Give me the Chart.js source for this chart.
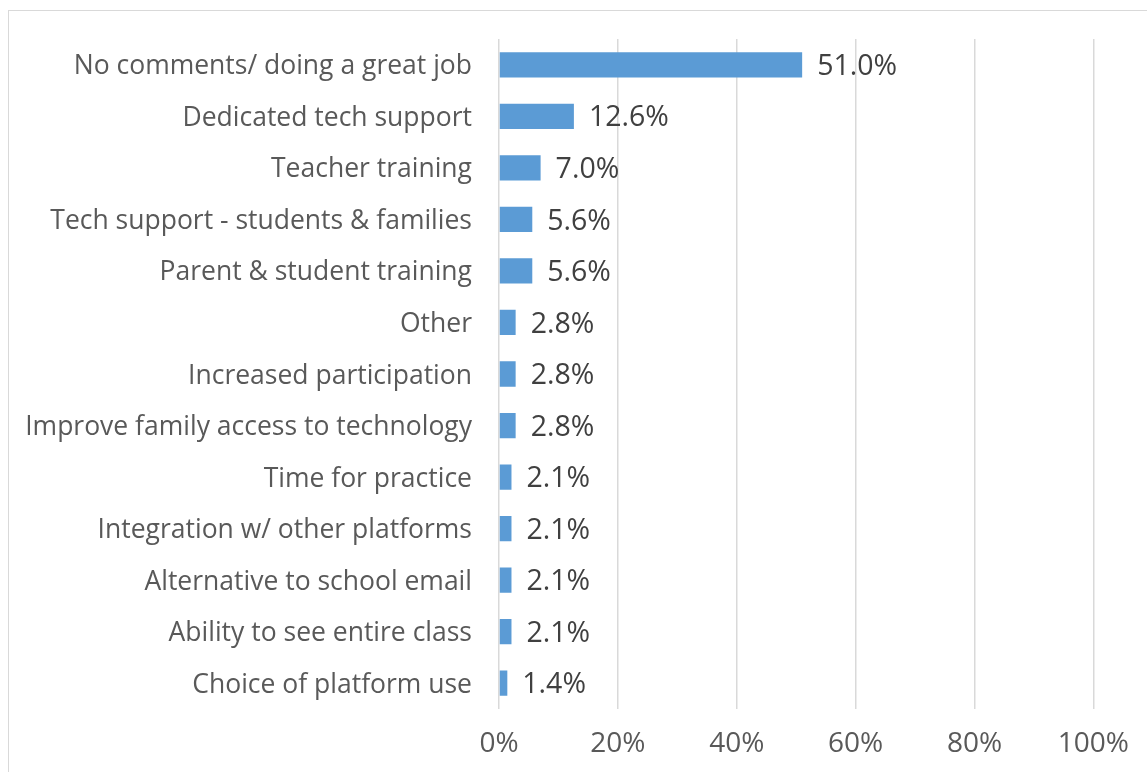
<!DOCTYPE html>
<html>
<head>
<meta charset="utf-8">
<script src="https://cdn.jsdelivr.net/npm/chart.js@4"></script>
<style>
  html, body { margin: 0; padding: 0; background: #fff; overflow: hidden; }
  #frame { position: absolute; left: 8px; top: 10px; width: 1200px; height: 800px; border: 1px solid #d9d9d9; }
  #wrap { position: absolute; left: 0; top: 0; width: 1147px; height: 772px; }
</style>
</head>
<body>
<div id="frame"></div>
<div id="wrap"><canvas id="chart"></canvas></div>
<script>
// --- Dados ---
const categories = [
  'No comments/ doing a great job',
  'Dedicated tech support',
  'Teacher training',
  'Tech support - students & families',
  'Parent & student training',
  'Other',
  'Increased participation',
  'Improve family access to technology',
  'Time for practice',
  'Integration w/ other platforms',
  'Alternative to school email',
  'Ability to see entire class',
  'Choice of platform use'
];
const percentValues = [51.0, 12.6, 7.0, 5.6, 5.6, 2.8, 2.8, 2.8, 2.1, 2.1, 2.1, 2.1, 1.4];
const xTicks = [0, 20, 40, 60, 80, 100];

const FONT = '"Open Sans", sans-serif';

// rótulos de valor no fim das barras
const barLabels = {
  id: 'barLabels',
  afterDatasetsDraw(chart) {
    const ctx = chart.ctx;
    const meta = chart.getDatasetMeta(0);
    ctx.save();
    ctx.font = '28.5px ' + FONT;
    ctx.fillStyle = '#404040';
    ctx.textAlign = 'left';
    ctx.textBaseline = 'middle';
    meta.data.forEach((bar, i) => {
      ctx.fillText(percentValues[i].toFixed(1) + '%', bar.x + 15, bar.y + 2);
    });
    ctx.restore();
  }
};

new Chart(document.getElementById('chart').getContext('2d'), {
  type: 'bar',
  data: {
    labels: categories,
    datasets: [{
      data: percentValues,
      backgroundColor: '#5b9bd5',
      borderWidth: 0,
      barPercentage: 0.49,
      categoryPercentage: 1
    }]
  },
  options: {
    indexAxis: 'y',
    responsive: true,
    maintainAspectRatio: false,
    animation: false,
    layout: { padding: { left: 0, right: 52, top: 39, bottom: 0 } },
    plugins: { legend: { display: false }, tooltip: { enabled: false } },
    scales: {
      x: {
        min: 0,
        max: 100,
        afterBuildTicks: (scale) => { scale.ticks = xTicks.map(v => ({ value: v })); },
        afterFit: (scale) => { scale.height = 63; },
        grid: { color: '#d9d9d9', lineWidth: 1.5, drawTicks: false },
        border: { display: false },
        ticks: {
          padding: 18,
          color: '#595959',
          font: { family: FONT, size: 28 },
          callback: (v) => v + '%'
        }
      },
      y: {
        afterFit: (scale) => { scale.width = 499; },
        grid: { display: false },
        border: { display: false },
        ticks: {
          padding: 19,
          labelOffset: 2,
          color: '#595959',
          font: { family: FONT, size: 26.5 }
        }
      }
    }
  },
  plugins: [barLabels]
});
</script>
</body>
</html>
